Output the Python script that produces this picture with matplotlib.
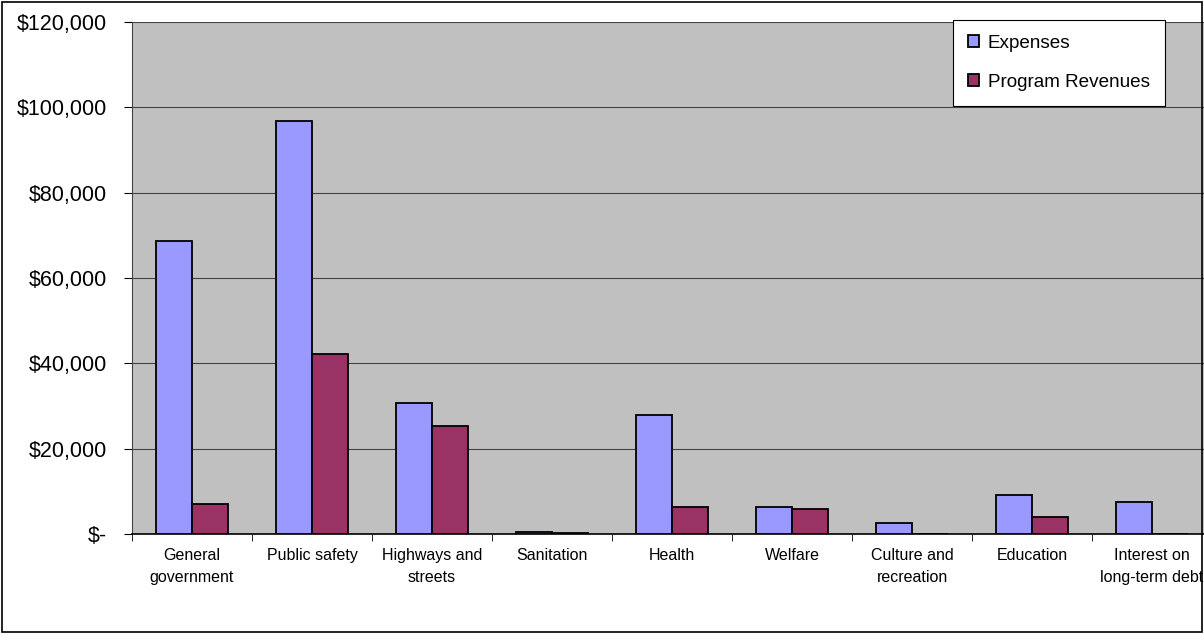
import matplotlib
matplotlib.use("Agg")
import matplotlib.pyplot as plt
import numpy as np
from matplotlib.patches import Rectangle

categories = ["General\ngovernment", "Public safety", "Highways and\nstreets", "Sanitation",
              "Health", "Welfare", "Culture and\nrecreation", "Education", "Interest on\nlong-term debt"]
expenses = [68600, 96700, 30600, 450, 27800, 6300, 2500, 9100, 7600]
revenues = [7000, 42300, 25400, 350, 6300, 5800, 0, 4000, 0]
yticks = [0, 20000, 40000, 60000, 80000, 100000, 120000]
ytick_labels = ["$-", "$20,000", "$40,000", "$60,000", "$80,000", "$100,000", "$120,000"]

plt.rcParams['font.family'] = ['Liberation Sans', 'DejaVu Sans']

fig = plt.figure(figsize=(12.04, 6.34), dpi=100)
fig.patches.append(Rectangle((0.0015, 0.0025), 0.997, 0.994, transform=fig.transFigure,
                             fill=False, edgecolor='black', linewidth=1.2))
ax = fig.add_axes([132/1204, 1-534/634, 1080/1204, 512/634])
ax.set_facecolor('#C0C0C0')

x = np.arange(len(categories))
w = 0.3
ax.bar(x - w/2, expenses, w, color='#9999FF', edgecolor='black', linewidth=1.3, label='Expenses', zorder=3)
ax.bar(x + w/2, revenues, w, color='#993366', edgecolor='black', linewidth=1.3, label='Program Revenues', zorder=3)

ax.set_xlim(-0.5, len(categories) - 0.5)
ax.set_ylim(0, 120000)
ax.set_yticks(yticks)
ax.set_yticklabels(ytick_labels, fontsize=15.5)
ax.yaxis.grid(True, color='#444444', linewidth=0.8, zorder=0)
ax.set_axisbelow(True)

ax.set_xticks(x)
ax.set_xticklabels(categories, fontsize=11.5, linespacing=1.62)
ax.set_xticks(np.arange(len(categories) + 1) - 0.5, minor=True)
ax.tick_params(axis='x', which='major', length=0, pad=10)
ax.tick_params(axis='x', which='minor', length=5, direction='out', color='black')
ax.tick_params(axis='y', length=6, direction='out', pad=12, color='black')

for s in ['top', 'right']:
    ax.spines[s].set_visible(False)
ax.spines['left'].set_color('#444444')
ax.spines['bottom'].set_color('black')
ax.spines['bottom'].set_linewidth(1.2)

leg = ax.legend(loc='upper left', bbox_to_anchor=((953-132)/1080, 1 + 2/512), fontsize=13.6,
                frameon=True, fancybox=False, edgecolor='black', framealpha=1,
                handlelength=0.6, handleheight=0.6, handletextpad=0.45,
                labelspacing=1.15, borderpad=0.8, borderaxespad=0)
leg.get_frame().set_linewidth(0.8)

fig.savefig('out.png', dpi=100)
